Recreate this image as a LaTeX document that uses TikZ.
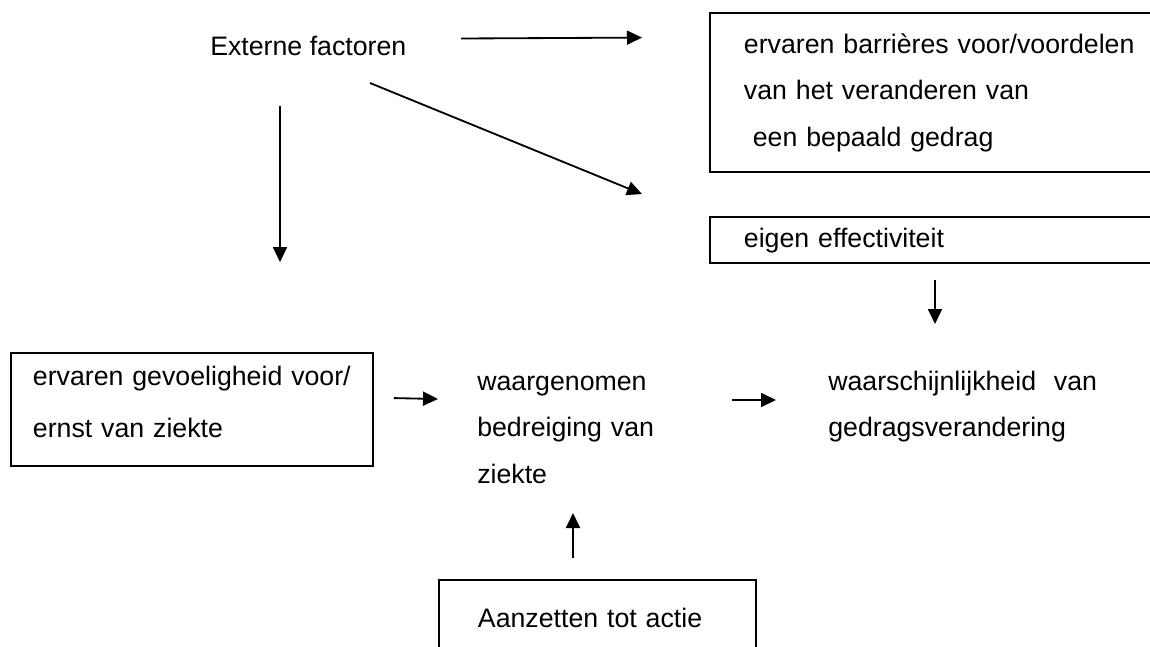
\documentclass[tikz,border=0pt]{standalone}
\usepackage{fontspec}
\setmainfont{Liberation Sans}
\usetikzlibrary{positioning,arrows.meta,calc}

\begin{document}
\begin{tikzpicture}[x=0.025cm, y=-0.025cm,
  tekst/.style={font=\fontsize{19pt}{33.4pt}\selectfont, align=left, inner sep=0pt, anchor=base west},
  kader/.style={tekst, draw, line width=1.3pt, inner ysep=0pt},
  pijl/.style={line width=1.3pt, -{Triangle[length=3.75mm, width=3.5mm]}}]
\useasboundingbox (0,0) rectangle (1150,646);
\clip (0,0) rectangle (1150,646);
\node[tekst] (ext) at (210,55) {Externe factoren};
\node[kader, inner xsep=0.85cm, text width=10.5cm, text height=1cm, text depth=2.975cm] (barr) at (709,53)
  {ervaren barrières voor/voordelen\\van het veranderen van\\\ een bepaald gedrag};
\node[kader, inner xsep=0.85cm, text width=10.5cm, text height=0.75cm, text depth=0.4cm] (eig) at (709,247)
  {eigen effectiviteit};
\node[kader, font=\fontsize{19pt}{37pt}\selectfont, inner xsep=0.55cm, text width=7.95cm, text height=0.8125cm, text depth=2.0125cm] (gev) at (10,385.5)
  {ervaren gevoeligheid voor/\\ernst van ziekte};
\node[tekst, text width=5.2cm] (wg) at (477,390) {waargenomen\\bedreiging van\\ziekte};
\node[tekst, text width=7.5cm] (kans) at (828,390) {waarschijnlijkheid\ \ van\\gedragsverandering};
\node[kader, inner xsep=0.975cm, text width=5.975cm, text height=1.175cm, text depth=0.7cm] (aan) at (438,627)
  {Aanzetten tot actie};
\draw[pijl] ($(ext.base west)+(251,-16.5)$) -- ($(barr.north west)+(-67,25.5)$);
\draw[pijl] ($(ext.base west)+(160,28)$) -- ($(eig.north west)+(-67,-22)$);
\draw[pijl] ($(ext.base west)+(70,51)$) -- ($(gev.north west)+(270,-90)$);
\draw[pijl] ($(eig.south west)+(226,16)$) -- ($(kans.base west)+(107,-66)$);
\draw[pijl] ($(gev.north east)+(20,46)$) -- ($(wg.base west)+(-39,9)$);
\draw[pijl] ($(wg.base west)+(255,10)$) -- ($(kans.base west)+(-52,10)$);
\draw[pijl] ($(aan.north west)+(135,-21)$) -- ($(wg.base west)+(96,123)$);
\end{tikzpicture}
\end{document}
